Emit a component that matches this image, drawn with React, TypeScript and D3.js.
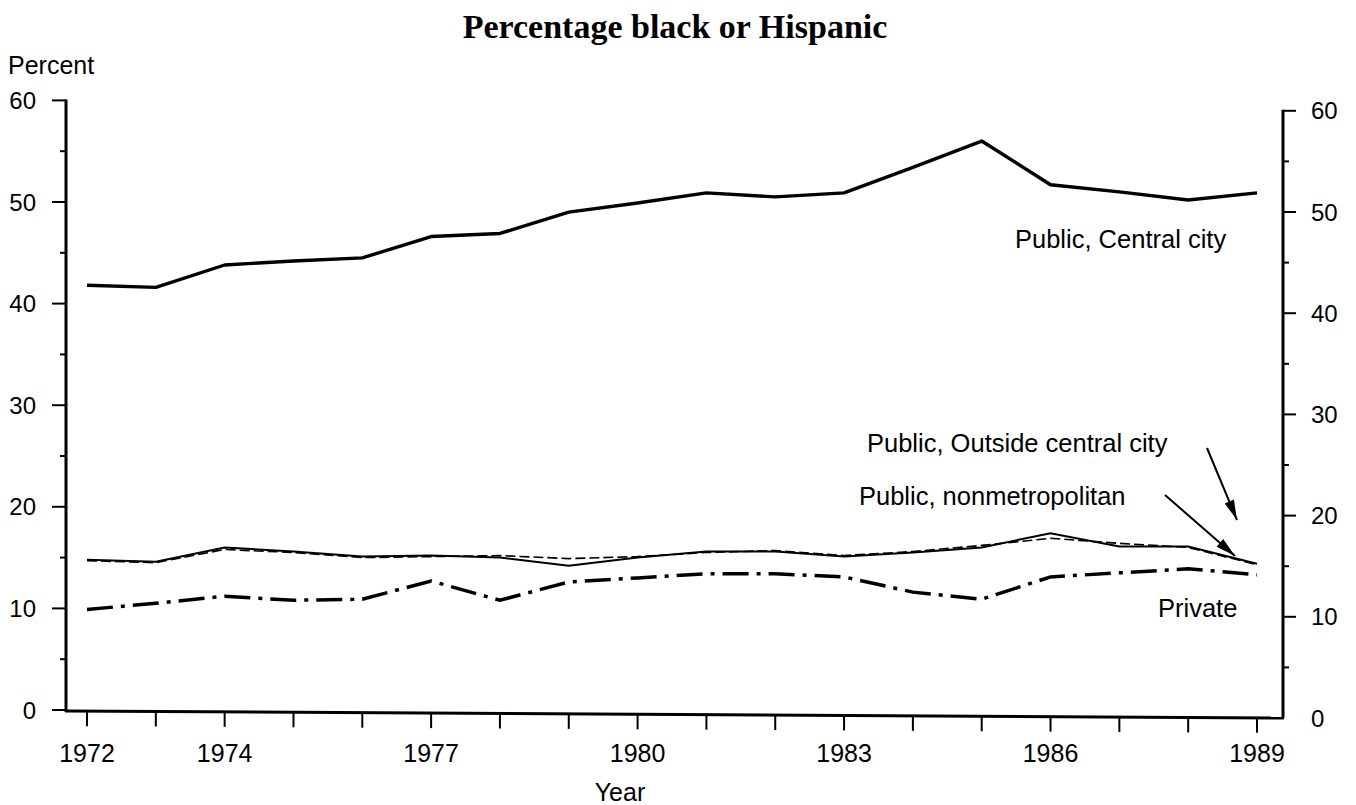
import React, { useEffect, useRef } from "react";
import * as d3 from "d3";

const years = [1972, 1973, 1974, 1975, 1976, 1977, 1978, 1979, 1980, 1981, 1982, 1983, 1984, 1985, 1986, 1987, 1988, 1989];
const centralCity = [41.8, 41.6, 43.8, 44.2, 44.5, 46.6, 46.9, 49.0, 49.9, 50.9, 50.5, 50.9, 53.4, 56.0, 51.7, 51.0, 50.2, 50.9];
const outsideCentral = [14.8, 14.6, 16.0, 15.6, 15.1, 15.2, 15.0, 14.2, 15.0, 15.6, 15.6, 15.1, 15.5, 16.0, 17.4, 16.1, 16.1, 14.4];
const nonmetro = [14.7, 14.5, 15.8, 15.5, 15.0, 15.1, 15.2, 14.9, 15.1, 15.5, 15.7, 15.2, 15.6, 16.2, 16.9, 16.4, 16.0, 14.3];
const privateSchools = [9.9, 10.5, 11.2, 10.8, 10.9, 12.7, 10.8, 12.6, 13.0, 13.4, 13.4, 13.1, 11.6, 10.9, 13.1, 13.5, 13.9, 13.3];
const xTickLabels = [1972, 1974, 1977, 1980, 1983, 1986, 1989];
const yTicks = [0, 10, 20, 30, 40, 50, 60];
const yMinorTicks = [5, 15, 25, 35, 45, 55];

const TITLE = "Percentage black or Hispanic";
const SANS = "'Liberation Sans', Arial, Helvetica, sans-serif";
const SERIF = "'Liberation Serif', 'Times New Roman', serif";

export default function App() {
  const ref = useRef<SVGSVGElement | null>(null);

  useEffect(() => {
    const svg = d3.select(ref.current);
    svg.selectAll("*").remove();

    const x = d3.scaleLinear().domain([1972, 1989]).range([87, 1257]);
    const y = d3.scaleLinear().domain([0, 50]).range([710, 202]);
    const yR = d3.scaleLinear().domain([0, 50]).range([718, 212]);

    const defs = svg.append("defs");
    defs
      .append("marker")
      .attr("id", "arrow")
      .attr("viewBox", "0 0 20 10")
      .attr("refX", 20)
      .attr("refY", 5)
      .attr("markerWidth", 22)
      .attr("markerHeight", 10)
      .attr("markerUnits", "userSpaceOnUse")
      .attr("orient", "auto")
      .append("path")
      .attr("d", "M0,0 L20,5 L0,10 Z")
      .attr("fill", "#000");

    // Title
    svg
      .append("text")
      .attr("x", 675)
      .attr("y", 38)
      .attr("text-anchor", "middle")
      .attr("font-family", SERIF)
      .attr("font-weight", "bold")
      .attr("font-size", 34)
      .text(TITLE);

    svg
      .append("text")
      .attr("x", 8)
      .attr("y", 74)
      .attr("font-family", SANS)
      .attr("font-size", 25)
      .text("Percent");

    // Left axis
    const gL = svg.append("g");
    gL.append("line").attr("x1", 66).attr("x2", 66).attr("y1", y(60) - 1).attr("y2", 712).attr("stroke", "#000").attr("stroke-width", 3);
    yTicks.forEach((t) => {
      gL.append("line").attr("x1", 52).attr("x2", 66).attr("y1", y(t)).attr("y2", y(t)).attr("stroke", "#000").attr("stroke-width", 2);
      gL.append("text").attr("x", 36).attr("y", y(t)).attr("dy", "0.36em").attr("text-anchor", "end")
        .attr("font-family", SANS).attr("font-size", 24).text(String(t));
    });
    yMinorTicks.forEach((t) => {
      gL.append("line").attr("x1", 60).attr("x2", 66).attr("y1", y(t)).attr("y2", y(t)).attr("stroke", "#000").attr("stroke-width", 2);
    });

    // Right axis
    const gR = svg.append("g");
    gR.append("line").attr("x1", 1283).attr("x2", 1283).attr("y1", yR(60) - 1).attr("y2", 718).attr("stroke", "#000").attr("stroke-width", 3);
    yTicks.forEach((t) => {
      if (t > 0) gR.append("line").attr("x1", 1283).attr("x2", 1296).attr("y1", yR(t)).attr("y2", yR(t)).attr("stroke", "#000").attr("stroke-width", 2);
      gR.append("text").attr("x", 1311).attr("y", yR(t)).attr("dy", "0.36em").attr("text-anchor", "start")
        .attr("font-family", SANS).attr("font-size", 24).text(String(t));
    });
    yMinorTicks.forEach((t) => {
      gR.append("line").attr("x1", 1283).attr("x2", 1289).attr("y1", yR(t)).attr("y2", yR(t)).attr("stroke", "#000").attr("stroke-width", 2);
    });

    // Bottom axis
    const gB = svg.append("g");
    gB.append("path").attr("d", `M65,711 L1284,718`).attr("stroke", "#000").attr("stroke-width", 3).attr("fill", "none");
    years.forEach((yr) => {
      const base = 711 + ((x(yr) - 65) / 1219) * 7;
      gB.append("line").attr("x1", x(yr)).attr("x2", x(yr)).attr("y1", base).attr("y2", base + 15).attr("stroke", "#000").attr("stroke-width", 2);
    });
    xTickLabels.forEach((yr) => {
      gB.append("text").attr("x", x(yr)).attr("y", 762).attr("text-anchor", "middle")
        .attr("font-family", SANS).attr("font-size", 25).text(String(yr));
    });
    svg.append("text").attr("x", 620).attr("y", 801).attr("text-anchor", "middle")
      .attr("font-family", SANS).attr("font-size", 25).text("Year");

    const line = d3
      .line<number>()
      .x((_, i) => x(years[i]))
      .y((d) => y(d));

    svg.append("path").attr("d", line(outsideCentral)).attr("fill", "none").attr("stroke", "#000").attr("stroke-width", 2);
    svg.append("path").attr("d", line(nonmetro)).attr("fill", "none").attr("stroke", "#000").attr("stroke-width", 1.6)
      .attr("stroke-dasharray", "10 4");
    svg.append("path").attr("d", line(privateSchools)).attr("fill", "none").attr("stroke", "#000").attr("stroke-width", 3.5)
      .attr("stroke-dasharray", "26 8 4 8");
    svg.append("path").attr("d", line(centralCity)).attr("fill", "none").attr("stroke", "#000").attr("stroke-width", 3.4)
      .attr("stroke-linejoin", "round");

    // Labels
    const label = (tx: number, ty: number, s: string) =>
      svg.append("text").attr("x", tx).attr("y", ty).attr("font-family", SANS).attr("font-size", 25.5).text(s);
    label(1015, 248, "Public, Central city");
    label(867, 452, "Public, Outside central city");
    label(859, 505, "Public, nonmetropolitan");
    label(1158, 617, "Private");

    // Arrows
    svg.append("line").attr("x1", 1207).attr("y1", 448).attr("x2", 1237).attr("y2", 520)
      .attr("stroke", "#000").attr("stroke-width", 2).attr("marker-end", "url(#arrow)");
    svg.append("line").attr("x1", 1165).attr("y1", 495).attr("x2", 1235).attr("y2", 556)
      .attr("stroke", "#000").attr("stroke-width", 2).attr("marker-end", "url(#arrow)");
  }, []);

  return (
    <svg
      ref={ref}
      width={1356}
      height={805}
      style={{ position: "absolute", left: 0, top: 0, background: "#fff", display: "block" }}
    />
  );
}
